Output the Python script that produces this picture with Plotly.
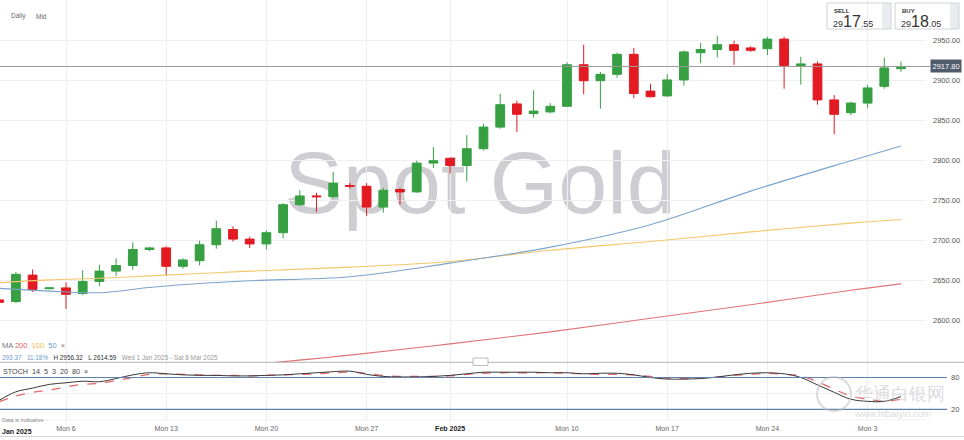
import plotly.graph_objects as go

# ---------------- data ----------------
dates = [
    "2025-01-01", "2025-01-02", "2025-01-03", "2025-01-05", "2025-01-06", "2025-01-07", "2025-01-08",
    "2025-01-09", "2025-01-10", "2025-01-12", "2025-01-13", "2025-01-14", "2025-01-15", "2025-01-16",
    "2025-01-17", "2025-01-19", "2025-01-20", "2025-01-21", "2025-01-22", "2025-01-23", "2025-01-24",
    "2025-01-26", "2025-01-27", "2025-01-28", "2025-01-29", "2025-01-30", "2025-01-31",
    "2025-02-02", "2025-02-03", "2025-02-04", "2025-02-05", "2025-02-06", "2025-02-07",
    "2025-02-09", "2025-02-10", "2025-02-11", "2025-02-12", "2025-02-13", "2025-02-14",
    "2025-02-16", "2025-02-17", "2025-02-18", "2025-02-19", "2025-02-20", "2025-02-21",
    "2025-02-23", "2025-02-24", "2025-02-25", "2025-02-26", "2025-02-27", "2025-02-28",
    "2025-03-02", "2025-03-03", "2025-03-04", "2025-03-05",
]
opens = [2626, 2624, 2657, 2640, 2641, 2634, 2649, 2662, 2669, 2689, 2691, 2668, 2675, 2695,
         2714, 2702, 2696, 2710, 2745, 2756, 2755, 2769, 2768, 2742, 2764, 2761, 2797,
         2803, 2794, 2815, 2842, 2871, 2859, 2861, 2868, 2920, 2900, 2908, 2933,
         2887, 2881, 2901, 2935, 2939, 2945, 2941, 2940, 2952, 2919, 2921, 2876,
         2860, 2872, 2893, 2915]
highs = [2628, 2661, 2664, 2642, 2648, 2663, 2670, 2678, 2698, 2692, 2693, 2678, 2700, 2725,
         2718, 2705, 2713, 2747, 2763, 2760, 2786, 2772, 2772, 2766, 2766, 2800, 2817,
         2804, 2832, 2846, 2884, 2875, 2888, 2872, 2923, 2945, 2911, 2935, 2941,
         2896, 2908, 2938, 2947, 2956.32, 2950, 2943, 2955, 2955, 2930, 2924, 2882,
         2874, 2895, 2929, 2924]
lows = [2621, 2622, 2636, 2639, 2614.59, 2632, 2643, 2656, 2664, 2687, 2656, 2665, 2669, 2690,
        2699, 2691, 2689, 2703, 2743, 2736, 2753, 2765, 2731, 2735, 2745, 2760, 2791,
        2784, 2774, 2813, 2840, 2836, 2854, 2859, 2867, 2883, 2865, 2904, 2878,
        2879, 2880, 2894, 2922, 2929, 2920, 2936, 2932, 2890, 2895, 2870, 2833,
        2857, 2866, 2890, 2911]
closes = [2623, 2658, 2639, 2641, 2633, 2649, 2662, 2669, 2689, 2691, 2668, 2676, 2695, 2715,
          2702, 2696, 2710, 2745, 2756, 2755, 2772, 2768, 2742, 2763, 2761, 2797, 2800,
          2794, 2815, 2842, 2870, 2858, 2862, 2868, 2920, 2900, 2908, 2933, 2884,
          2880, 2901, 2936, 2939, 2945, 2938, 2938, 2952, 2919, 2921, 2876, 2858,
          2872, 2891, 2916, 2917.8]

# moving averages read at weekly points
ma_dates = ["2025-01-01", "2025-01-05", "2025-01-08", "2025-01-12", "2025-01-15", "2025-01-19",
            "2025-01-26", "2025-02-02", "2025-02-09", "2025-02-16", "2025-02-23", "2025-03-02", "2025-03-05"]
ma50 = [2640.5, 2637, 2635, 2641.5, 2646.5, 2650, 2655, 2672, 2692, 2720, 2762, 2800, 2818.5]
ma100 = [2647.5, 2651, 2653, 2656, 2659, 2662, 2667, 2674, 2688, 2699, 2711, 2722, 2726.5]
ma200_dates = ["2025-01-19", "2025-01-26", "2025-02-02", "2025-02-09", "2025-02-16", "2025-02-23",
               "2025-03-02", "2025-03-05"]
ma200 = [2545, 2557, 2571, 2586, 2603, 2620, 2638, 2646]

stoch_k = [37, 53, 60, 67, 70, 73, 72, 78, 85, 89, 87, 85, 84, 84, 83, 83, 84, 85, 87, 89, 91,
           92, 86, 82, 81, 81, 82, 84, 87, 90, 90, 90, 90, 89, 89, 87, 88, 88, 85, 80, 77,
           77, 78, 81, 85, 88, 89, 87, 80, 66, 52, 39, 35, 35, 44]
stoch_d = [34, 45, 52, 56, 62, 67, 69, 74, 80, 86, 87, 86, 85, 84, 84, 83, 84, 85, 86, 87, 89,
           90, 88, 84, 82, 82, 82, 83, 86, 88, 89, 89, 89, 89, 88, 87, 86, 86, 85, 82, 79,
           78, 79, 81, 84, 86, 88, 86, 83, 72, 58, 45, 39, 35, 39]

tick_dates = ["2025-01-06", "2025-01-13", "2025-01-20", "2025-01-27", "2025-02-02",
              "2025-02-10", "2025-02-17", "2025-02-24", "2025-03-03"]
tick_text = ["Mon 6", "Mon 13", "Mon 20", "Mon 27",
             "<span style='color:#222'><b>Feb 2025</b></span>",
             "Mon 10", "Mon 17", "Mon 24", "Mon 3"]
price_ticks = [2600, 2650, 2700, 2750, 2800, 2850, 2900, 2950]
stoch_ticks = [20, 80]
last_price = 2917.80
sell_price = "29<span style='font-size:16px'>17</span>.55"
buy_price = "29<span style='font-size:16px'>18</span>.05"

# ---------------- layout helpers ----------------
W, H = 964, 440
R = 38
PW = W - R
FONT = "Liberation Sans, Arial, sans-serif"


def px(x):
    return x / PW


def py(y):
    return 1 - y / H


GREEN = "#36a043"
RED = "#e21a22"
GRID = "#efeff1"

fig = go.Figure()

fig.add_trace(go.Candlestick(
    x=dates, open=opens, high=highs, low=lows, close=closes,
    increasing=dict(line=dict(color=GREEN, width=1), fillcolor=GREEN),
    decreasing=dict(line=dict(color=RED, width=1), fillcolor=RED),
    whiskerwidth=0, xaxis="x", yaxis="y", showlegend=False, hoverinfo="skip",
))
fig.add_trace(go.Scatter(x=ma_dates, y=ma100, mode="lines", line=dict(color="#f3c76a", width=1.1, shape="spline"),
                         xaxis="x", yaxis="y", showlegend=False, hoverinfo="skip"))
fig.add_trace(go.Scatter(x=ma_dates, y=ma50, mode="lines", line=dict(color="#7ba3cc", width=1.1, shape="spline"),
                         xaxis="x", yaxis="y", showlegend=False, hoverinfo="skip"))
fig.add_trace(go.Scatter(x=ma200_dates, y=ma200, mode="lines", line=dict(color="#e07478", width=1.1, shape="spline"),
                         xaxis="x", yaxis="y", showlegend=False, hoverinfo="skip"))

fig.add_trace(go.Scatter(x=dates, y=stoch_d, mode="lines", line=dict(color="#e36a6a", width=1.3, dash="dash", shape="spline"),
                         xaxis="x2", yaxis="y2", showlegend=False, hoverinfo="skip"))
fig.add_trace(go.Scatter(x=dates, y=stoch_k, mode="lines", line=dict(color="#3a3a3a", width=1, shape="spline"),
                         xaxis="x2", yaxis="y2", showlegend=False, hoverinfo="skip"))

xr = [0.048, 0.048 + PW / 16.7]
common_x = dict(type="category", categoryorder="array", categoryarray=dates, range=xr,
                showgrid=True, gridcolor=GRID, gridwidth=1, zeroline=False, showline=False,
                tickmode="array", tickvals=tick_dates, ticktext=tick_text)

fig.update_layout(
    width=W, height=H,
    margin=dict(l=0, r=R, t=0, b=0),
    paper_bgcolor="white", plot_bgcolor="white",
    font=dict(family=FONT, color="#555", size=7),
    boxgap=0.25,
    hovermode=False,
    xaxis=dict(**common_x, domain=[0, 1], anchor="y", showticklabels=False,
               rangeslider=dict(visible=False)),
    xaxis2=dict(**common_x, domain=[0, 1], anchor="y2", showticklabels=True,
                ticks="", tickfont=dict(size=7, color="#666"), ticklabelstandoff=2),
    yaxis=dict(domain=[py(362.3), 1], range=[2548.0, 3000.9], side="right",
               tickmode="array", tickvals=price_ticks, tickformat=".2f",
               showgrid=True, gridcolor=GRID, zeroline=False, ticks="",
               tickfont=dict(size=7.5, color="#555"), ticklabelstandoff=6, anchor="x"),
    yaxis2=dict(domain=[py(421), py(362.3)], range=[-2.1, 108.7], side="right",
                tickmode="array", tickvals=stoch_ticks, showgrid=False, zeroline=False,
                ticks="", tickfont=dict(size=7.5, color="#555"), ticklabelstandoff=24, anchor="x2"),
)

shapes = []
# current price line
shapes.append(dict(type="line", xref="paper", yref="y", x0=0, x1=px(930), y0=last_price, y1=last_price,
                   line=dict(color="#9a9a9a", width=1)))
# separator between panels
shapes.append(dict(type="line", xref="paper", yref="paper", x0=0, x1=px(W), y0=py(362.3), y1=py(362.3),
                   line=dict(color="#b5b5b5", width=1)))
# stoch levels
for lvl in stoch_ticks:
    shapes.append(dict(type="line", xref="paper", yref="y2", x0=0, x1=px(947), y0=lvl, y1=lvl,
                       line=dict(color="#5f82ad", width=1.2)))
for lvl in [50, 0]:
    shapes.append(dict(type="line", xref="paper", yref="y2", x0=0, x1=1, y0=lvl, y1=lvl,
                       line=dict(color=GRID, width=1), layer="below"))
# small handle between panels
shapes.append(dict(type="rect", xref="paper", yref="paper", x0=px(473), x1=px(488), y0=py(365.5), y1=py(358),
                   line=dict(color="#bbb", width=1), fillcolor="white"))
# bottom navigator line
shapes.append(dict(type="line", xref="paper", yref="paper", x0=0, x1=px(W), y0=py(436.5), y1=py(436.5),
                   line=dict(color="#d6d6d6", width=1)))
# SELL / BUY boxes
for x0, x1 in [(827, 891), (895, 959)]:
    shapes.append(dict(type="rect", xref="paper", yref="paper", x0=px(x1 - 9), x1=px(x1), y0=py(29), y1=py(3),
                       line=dict(width=0), fillcolor="#e9ebee"))
    shapes.append(dict(type="rect", xref="paper", yref="paper", x0=px(x0), x1=px(x1), y0=py(29), y1=py(3),
                       line=dict(color="#cfd2d6", width=1), fillcolor="rgba(0,0,0,0)"))
# watermark logo circle
shapes.append(dict(type="circle", xref="paper", yref="paper", x0=px(817), x1=px(851), y0=py(411), y1=py(377),
                   line=dict(color="rgba(190,190,196,0.55)", width=2), fillcolor="rgba(0,0,0,0)"))
# Spot Gold watermark below the candles
shapes.append(dict(type="rect", xref="paper", yref="paper", x0=px(260), x1=px(700), y0=py(224), y1=py(124),
                   line=dict(width=0), fillcolor="rgba(0,0,0,0)", layer="below",
                   label=dict(text="Spot Gold", textposition="middle center",
                              font=dict(family=FONT, size=88, color="#cdcdd2"))))
fig.update_layout(shapes=shapes)

ann = []


def A(text, x, y, size=7, color="#555", xanchor="left", yanchor="middle", **kw):
    ann.append(dict(text=text, x=px(x), y=py(y), xref="paper", yref="paper", showarrow=False,
                    xanchor=xanchor, yanchor=yanchor, font=dict(family=FONT, size=size, color=color), **kw))


A("Daily", 9, 16, size=6.5, color="#666")
A("Mid", 34, 16, size=6.5, color="#666")
A("<b>SELL</b>", 832, 10.5, size=6, color="#333")
A("<b>BUY</b>", 900, 10.5, size=6, color="#333")
A(sell_price, 831, 21, size=9, color="#333")
A(buy_price, 899, 21, size=9, color="#333")
A(f"{last_price:.2f}", 946, 65.5, size=7.5, color="white", xanchor="center", bgcolor="#4e5c6c",
  borderpad=1.5)
A("MA <span style='color:#e05a5e'>200</span>  <span style='color:#f0b94a'>100</span>  "
  "<span style='color:#6f9acb'>50</span>  ×", 0, 345.5, size=7.5, color="#777")
A("<span style='color:#6f9acb'>293.37</span>   <span style='color:#6f9acb'>11.18%</span>   "
  "<span style='color:#333'>H 2956.32</span>   <span style='color:#333'>L 2614.59</span>   "
  "<span style='color:#999'>Wed 1 Jan 2025 - Sat 8 Mar 2025</span>", 0, 357, size=6.4)
A("STOCH  14  5  3  20  80  ×", 1, 371.5, size=7.2, color="#444")
A("Data is indicative", 0, 420, size=5.5, color="#888")
A("<b>Jan 2025</b>", 0, 431, size=7, color="#222")
A("华通白银网", 853, 394, size=18, color="rgba(185,185,192,0.5)")
A("www.htbaiyin.com", 852, 413, size=9.5, color="rgba(185,185,192,0.55)")
fig.update_layout(annotations=ann)

fig.write_html("out.html", config={"displayModeBar": False, "staticPlot": True},
               post_script="document.body.style.margin='0px';")
